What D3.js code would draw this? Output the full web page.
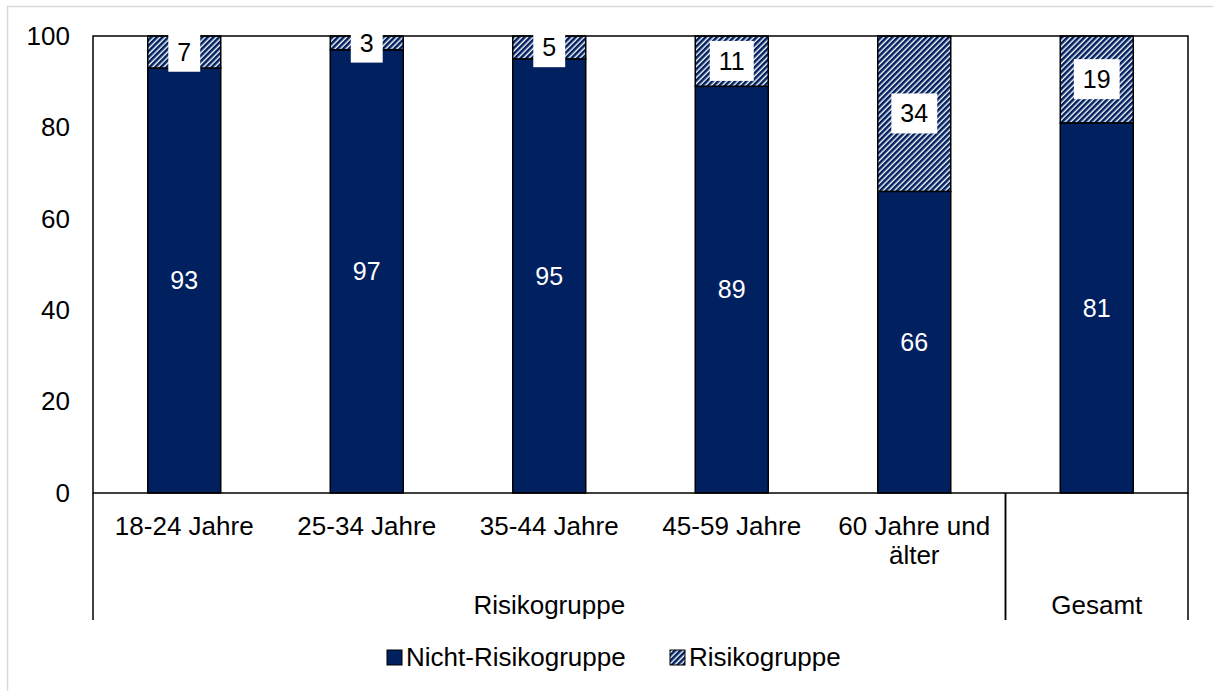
<!DOCTYPE html>
<html>
<head>
<meta charset="utf-8">
<script src="https://cdn.jsdelivr.net/npm/d3@7"></script>
<style>
  body { margin: 0; background: #fff; }
  svg text { font-family: "Liberation Sans", Arial, sans-serif; }
</style>
</head>
<body>
<div id="container"></div>
<script>
/*
    Chart data
*/
var categories = ["18-24", "25-34", "35-44", "45-59", "60+", "gesamt"];
var categoryLabels = [["18-24 Jahre"], ["25-34 Jahre"], ["35-44 Jahre"], ["45-59 Jahre"], ["60 Jahre und", "älter"], []];
var nichtRisiko = [93, 97, 95, 89, 66, 81];
var risiko = [7, 3, 5, 11, 34, 19];
var groups = [
  { name: "Risikogruppe", first: "18-24", last: "60+" },
  { name: "Gesamt", first: "gesamt", last: "gesamt" }
];
var seriesNames = ["Nicht-Risikogruppe", "Risikogruppe"];
var yTicks = [0, 20, 40, 60, 80, 100];

var width = 1213, height = 691;
var NAVY = "#002060";
var FS = 26;
var margin = { left: 93, top: 36, right: 25, bottom: 198 };

var svg = d3.select("#container").append("svg")
    .attr("width", width)
    .attr("height", height);

// hatch pattern for the Risikogruppe series
var defs = svg.append("defs");
var pat = defs.append("pattern")
    .attr("id", "hatch")
    .attr("patternUnits", "userSpaceOnUse")
    .attr("width", 4)
    .attr("height", 4)
    .attr("patternTransform", "rotate(45)");
pat.append("rect").attr("width", 4).attr("height", 4).attr("fill", "#fff");
pat.append("rect").attr("width", 2.6).attr("height", 4).attr("fill", NAVY);

// light outer frame
svg.append("path")
    .attr("d", "M7.5,691 V6.5 H1213")
    .attr("fill", "none")
    .attr("stroke", "#d9d9d9")
    .attr("stroke-width", 1.5);

var x = d3.scaleBand()
    .domain(categories)
    .range([margin.left, width - margin.right])
    .paddingInner(0.6)
    .paddingOuter(0.3);

var y = d3.scaleLinear()
    .domain([0, 100])
    .range([height - margin.bottom, margin.top]);

var step = x.step();
var x0 = margin.left, x1 = width - margin.right;

// y axis labels
var yAxis = d3.axisLeft(y).tickValues(yTicks).tickSize(0).tickPadding(23);
svg.append("g")
    .attr("transform", "translate(" + x0 + ",0)")
    .call(yAxis)
    .call(function (g) { g.select(".domain").remove(); })
    .selectAll("text")
    .attr("font-size", FS)
    .attr("fill", "#000")
    .style("font-family", "'Liberation Sans', Arial, sans-serif");

// stacked bars
var stackData = categories.map(function (c, i) {
  return { cat: c, a: nichtRisiko[i], b: risiko[i] };
});

var bars = svg.append("g");
bars.selectAll(".nicht")
    .data(stackData)
    .enter().append("rect")
    .attr("class", "nicht")
    .attr("x", function (d) { return x(d.cat); })
    .attr("width", x.bandwidth())
    .attr("y", function (d) { return y(d.a); })
    .attr("height", function (d) { return y(0) - y(d.a); })
    .attr("fill", NAVY)
    .attr("stroke", "#000")
    .attr("stroke-width", 1.5);

bars.selectAll(".risiko")
    .data(stackData)
    .enter().append("rect")
    .attr("class", "risiko")
    .attr("x", function (d) { return x(d.cat); })
    .attr("width", x.bandwidth())
    .attr("y", function (d) { return y(d.a + d.b); })
    .attr("height", function (d) { return y(d.a) - y(d.a + d.b); })
    .attr("fill", "url(#hatch)")
    .attr("stroke", "#000")
    .attr("stroke-width", 1.5);

// plot frame
svg.append("rect")
    .attr("x", x0)
    .attr("y", y(100))
    .attr("width", x1 - x0)
    .attr("height", y(0) - y(100))
    .attr("fill", "none")
    .attr("stroke", "#000")
    .attr("stroke-width", 1.5);

// value labels inside the navy part
svg.append("g").selectAll("text")
    .data(stackData)
    .enter().append("text")
    .attr("x", function (d) { return x(d.cat) + x.bandwidth() / 2; })
    .attr("y", function (d) { return y(d.a / 2); })
    .attr("dy", "0.35em")
    .attr("text-anchor", "middle")
    .attr("font-size", 25)
    .attr("fill", "#fff")
    .text(function (d) { return d.a; });

// value labels with white boxes for Risikogruppe
var lab = svg.append("g").selectAll("g")
    .data(stackData)
    .enter().append("g")
    .attr("transform", function (d) {
      return "translate(" + (x(d.cat) + x.bandwidth() / 2) + "," + y(d.a + d.b / 2) + ")";
    });
lab.append("rect")
    .attr("fill", "#fff");
lab.append("text")
    .attr("dy", "0.35em")
    .attr("text-anchor", "middle")
    .attr("font-size", 25)
    .attr("fill", "#000")
    .text(function (d) { return d.b; });
lab.each(function () {
  var g = d3.select(this);
  var bb = g.select("text").node().getBBox();
  g.select("rect")
      .attr("x", bb.x - 9)
      .attr("y", bb.y - 6)
      .attr("width", bb.width + 18)
      .attr("height", bb.height + 12);
});

// category axis below the plot
var catG = svg.append("g");
catG.selectAll("text")
    .data(categories)
    .enter().append("text")
    .attr("x", function (d) { return x(d) + x.bandwidth() / 2; })
    .attr("y", y(0) + 42)
    .attr("text-anchor", "middle")
    .attr("font-size", FS)
    .attr("fill", "#000")
    .each(function (d, i) {
      var t = d3.select(this);
      categoryLabels[i].forEach(function (line, j) {
        t.append("tspan")
          .attr("x", x(d) + x.bandwidth() / 2)
          .attr("dy", j === 0 ? 0 : 29)
          .text(line);
      });
    });

// group separators and labels
var sepY1 = y(0) + 127;
var groupG = svg.append("g");
groups.forEach(function (gr) {
  var gx0 = x(gr.first) - x.paddingOuter() * step;
  var gx1 = x(gr.last) + x.bandwidth() + x.paddingOuter() * step;
  groupG.append("line")
      .attr("x1", gx0).attr("x2", gx0)
      .attr("y1", y(0)).attr("y2", sepY1)
      .attr("stroke", "#000").attr("stroke-width", 1.5);
  groupG.append("line")
      .attr("x1", gx1).attr("x2", gx1)
      .attr("y1", y(0)).attr("y2", sepY1)
      .attr("stroke", "#000").attr("stroke-width", 1.5);
  groupG.append("text")
      .attr("x", (gx0 + gx1) / 2)
      .attr("y", y(0) + 121)
      .attr("text-anchor", "middle")
      .attr("font-size", FS)
      .attr("fill", "#000")
      .text(gr.name);
});

// legend
var legend = svg.append("g");
var legX = [387, 670];
var legFill = [NAVY, "url(#hatch)"];
seriesNames.forEach(function (name, i) {
  legend.append("rect")
      .attr("x", legX[i]).attr("y", 650)
      .attr("width", 15).attr("height", 15)
      .attr("fill", legFill[i])
      .attr("stroke", "#000").attr("stroke-width", 1);
  legend.append("text")
      .attr("x", legX[i] + 19)
      .attr("y", 666)
      .attr("font-size", FS)
      .attr("fill", "#000")
      .text(name);
});
</script>
</body>
</html>
